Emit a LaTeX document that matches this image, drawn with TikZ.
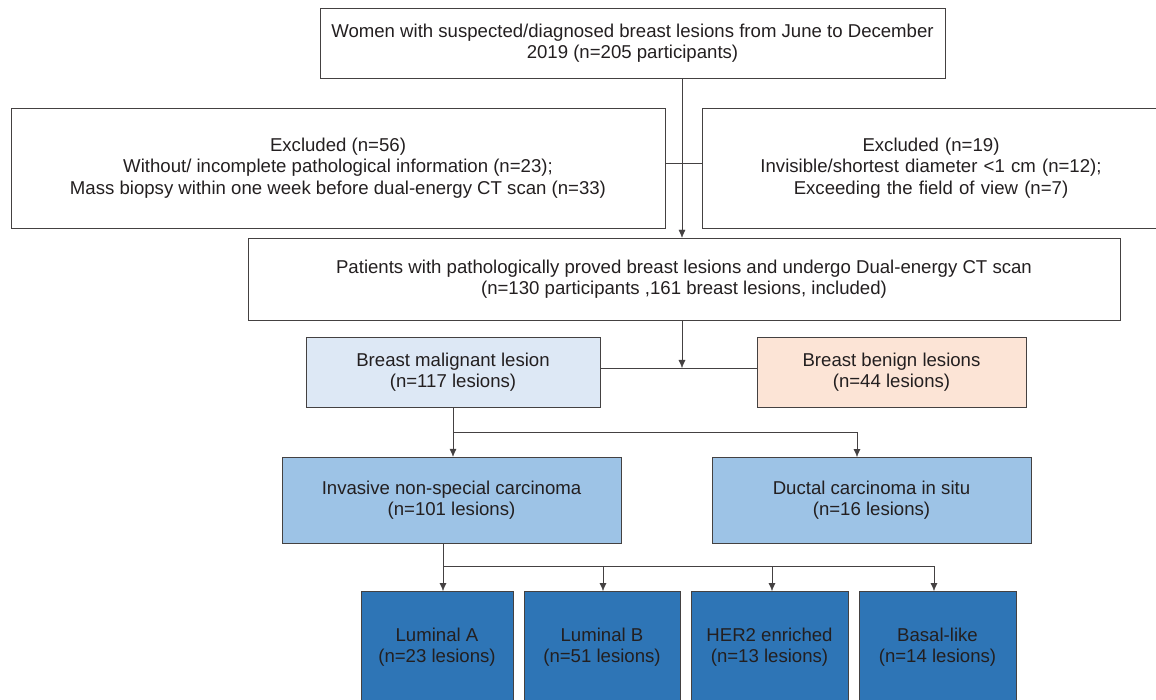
\documentclass[tikz,border=0pt]{standalone}
\usepackage{fontspec}
\setmainfont{Liberation Sans}
\definecolor{malig}{HTML}{DDE8F5}
\definecolor{benign}{HTML}{FCE4D6}
\definecolor{midblue}{HTML}{9DC3E6}
\definecolor{darkblue}{HTML}{2E75B6}
\definecolor{ink}{HTML}{231F20}
\begin{document}
\begin{tikzpicture}[x=1pt, y=-1pt,
  box/.style={draw=ink!85, thin, text=ink, align=center, inner sep=0pt, font=\fontsize{18.6}{21.6}\selectfont},
  arr/.style={-{Latex[length=8pt,width=7pt]}}]
\usetikzlibrary{arrows.meta}
\useasboundingbox (0,0) rectangle (1156,700);
\clip (0,0) rectangle (1156,700);

\node[box, minimum width=625, minimum height=70] (top) at (632.5,43) {Women with suspected/diagnosed breast lesions from June to December\\2019 (n=205 participants)};
\node[box, minimum width=654, minimum height=120] (exl) at (338,168) {Excluded (n=56)\\Without/ incomplete pathological information (n=23);\\Mass biopsy within one week before dual-energy CT scan (n=33)};
\node[box, minimum width=470, minimum height=120, text width=460] (exr) at (937,168) {\hspace*{-12pt}Excluded (n=19)\\\hspace*{-12pt}Invisible/shortest diameter <1 cm (n=12);\\\hspace*{-12pt}Exceeding the field of view (n=7)};
\node[box, minimum width=872, minimum height=82] (incl) at (684,279) {Patients with pathologically proved breast lesions and undergo Dual-energy CT scan\\(n=130 participants ,161 breast lesions, included)};

\node[box, fill=malig, minimum width=294, minimum height=70] (mal) at (453,372) {Breast malignant lesion\\(n=117 lesions)};
\node[box, fill=benign, minimum width=269, minimum height=70] (ben) at (891.5,372) {Breast benign lesions\\(n=44 lesions)};

\node[box, fill=midblue, minimum width=339, minimum height=86] (idc) at (451.5,500) {Invasive non-special carcinoma\\(n=101 lesions)};
\node[box, fill=midblue, minimum width=319, minimum height=86] (dcis) at (871.5,500) {Ductal carcinoma in situ\\(n=16 lesions)};

\node[box, fill=darkblue, minimum width=152, minimum height=130, anchor=north] (luma) at (437,591) {};
\node[box, fill=darkblue, minimum width=156, minimum height=130, anchor=north] (lumb) at (602,591) {};
\node[box, fill=darkblue, minimum width=157, minimum height=130, anchor=north] (her) at (769.5,591) {};
\node[box, fill=darkblue, minimum width=157, minimum height=130, anchor=north] (basal) at (937.5,591) {};
\node[box, draw=none] (lumat) at (437,647) {Luminal A\\(n=23 lesions)};
\node[box, draw=none] (lumbt) at (602,647) {Luminal B\\(n=51 lesions)};
\node[box, draw=none] (hert) at (769.5,647) {HER2 enriched\\(n=13 lesions)};
\node[box, draw=none] (basalt) at (937.5,647) {Basal-like\\(n=14 lesions)};

% trunk lines
\coordinate (j1) at (682,163);
\coordinate (j2) at (682,368);
\coordinate (j3) at (453,432);
\coordinate (j4) at (443,566);
\draw[ink!85, arr] (top.south -| j1) -- (incl.north -| j1);
\draw[ink!85] (exl.east |- j1) -- (exr.west |- j1);
\draw[ink!85, arr] (incl.south -| j2) -- (j2);
\draw[ink!85] (mal.east |- j2) -- (ben.west |- j2);
\draw[ink!85, arr] (mal.south -| j3) -- (idc.north -| j3);
\draw[ink!85, arr] (j3) -| (857,457);
\draw[ink!85, arr] (idc.south -| j4) -- (luma.north -| j4);
\foreach \x in {603,772,934} \draw[ink!85, arr] (j4) -| (\x,591);
\end{tikzpicture}
\end{document}
